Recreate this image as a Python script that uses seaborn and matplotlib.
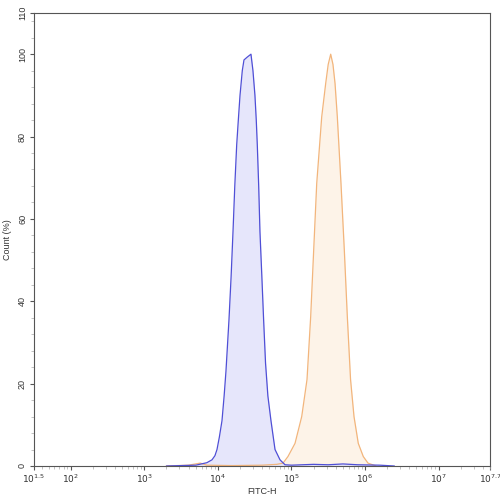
import numpy as np
import pandas as pd
import seaborn as sns
import matplotlib
matplotlib.use('Agg')
import matplotlib.pyplot as plt
from matplotlib.ticker import FixedLocator, MultipleLocator, LogLocator, NullFormatter

# Histogram outlines: log10(FITC-H) and Count (%)
blue_log = [3.30, 3.70, 3.85, 3.92, 3.96, 3.988, 4.02, 4.056, 4.085, 4.110, 4.151, 4.18, 4.206,
            4.23, 4.256, 4.278, 4.301, 4.332, 4.355, 4.40, 4.450, 4.477, 4.504, 4.522, 4.536,
            4.555, 4.572, 4.598, 4.622, 4.648, 4.68, 4.722, 4.777, 4.845, 4.913, 5.0, 5.3, 5.5,
            5.7, 5.9, 6.2, 6.4]
blue_pct = [0, 0.2, 0.8, 1.5, 2.5, 4, 7, 11, 17, 23, 35.5, 46, 57,
            68, 78, 84, 90, 96, 98.6, 99.3, 100, 96, 90, 84, 78,
            68, 57, 46, 35.5, 25, 17, 11, 4, 1.5, 0.3, 0.2, 0.4, 0.3,
            0.5, 0.3, 0.2, 0]

orange_log = [3.30, 3.60, 3.76, 3.85, 4.2, 4.6, 4.80, 4.886, 4.953, 5.049, 5.140, 5.212,
              5.262, 5.303, 5.344, 5.412, 5.466, 5.50, 5.534, 5.565, 5.593, 5.624, 5.674,
              5.719, 5.760, 5.804, 5.851, 5.909, 5.977, 6.041, 6.15]
orange_pct = [0, 0.2, 0.7, 0.2, 0.1, 0.2, 0.4, 0.7, 2.3, 5.5, 12, 21,
              36.3, 52.5, 68.6, 84.8, 92.9, 97.5, 100, 97.5, 92.9, 84.8, 68.6,
              52.5, 36.3, 21, 12, 5.5, 2.3, 0.7, 0]

x_tick_exp = [1.5, 2, 3, 4, 5, 6, 7, 7.7]
x_tick_labels = ['$10^{1.5}$', '$10^{2}$', '$10^{3}$', '$10^{4}$', '$10^{5}$',
                 '$10^{6}$', '$10^{7}$', '$10^{7.7}$']
y_ticks = [0, 20, 40, 60, 80, 100, 110]

blue = pd.DataFrame({'FITC-H': np.power(10.0, blue_log), 'Count (%)': blue_pct})
orange = pd.DataFrame({'FITC-H': np.power(10.0, orange_log), 'Count (%)': orange_pct})

sns.set_theme(style='white')
plt.rcParams['font.family'] = ['Liberation Sans', 'DejaVu Sans']

fig = plt.figure(figsize=(5, 5), dpi=100)
ax = fig.add_axes([0.068, 0.068, 0.912, 0.906])

ax.fill_between(orange['FITC-H'], orange['Count (%)'], color='#fdf3e8', lw=0)
sns.lineplot(data=orange, x='FITC-H', y='Count (%)', ax=ax, color='#f2b57c',
             lw=0.9, sort=False, estimator=None)
ax.fill_between(blue['FITC-H'], blue['Count (%)'], color='#e6e6fb', lw=0)
sns.lineplot(data=blue, x='FITC-H', y='Count (%)', ax=ax, color='#4f4fd6',
             lw=0.9, sort=False, estimator=None)

ax.set_xscale('log')
ax.set_xlim(10 ** 1.5, 10 ** 7.7)
ax.set_ylim(0, 110)

ax.xaxis.set_major_locator(FixedLocator([10 ** e for e in x_tick_exp]))
ax.set_xticklabels(x_tick_labels)
ax.xaxis.set_minor_locator(LogLocator(base=10, subs=np.arange(2, 10)))
ax.xaxis.set_minor_formatter(NullFormatter())

ax.set_yticks(y_ticks)
ax.set_yticklabels([str(v) for v in y_ticks], rotation=90, va='center')
ax.yaxis.set_minor_locator(MultipleLocator(4))

for s in ax.spines.values():
    s.set_color('#555555')
    s.set_linewidth(0.8)

ax.tick_params(axis='both', which='major', direction='out', length=3, width=0.8,
               color='#555555', labelsize=6.5, labelcolor='#333333', pad=2,
               bottom=True, left=True)
ax.tick_params(axis='both', which='minor', direction='out', length=2, width=0.5,
               color='#aaaaaa', bottom=True, left=True)

ax.set_xlabel('FITC-H', fontsize=6.5, color='#333333', labelpad=1)
ax.set_ylabel('Count (%)', fontsize=6.5, color='#333333', labelpad=4)

fig.savefig('out.png', dpi=100)
